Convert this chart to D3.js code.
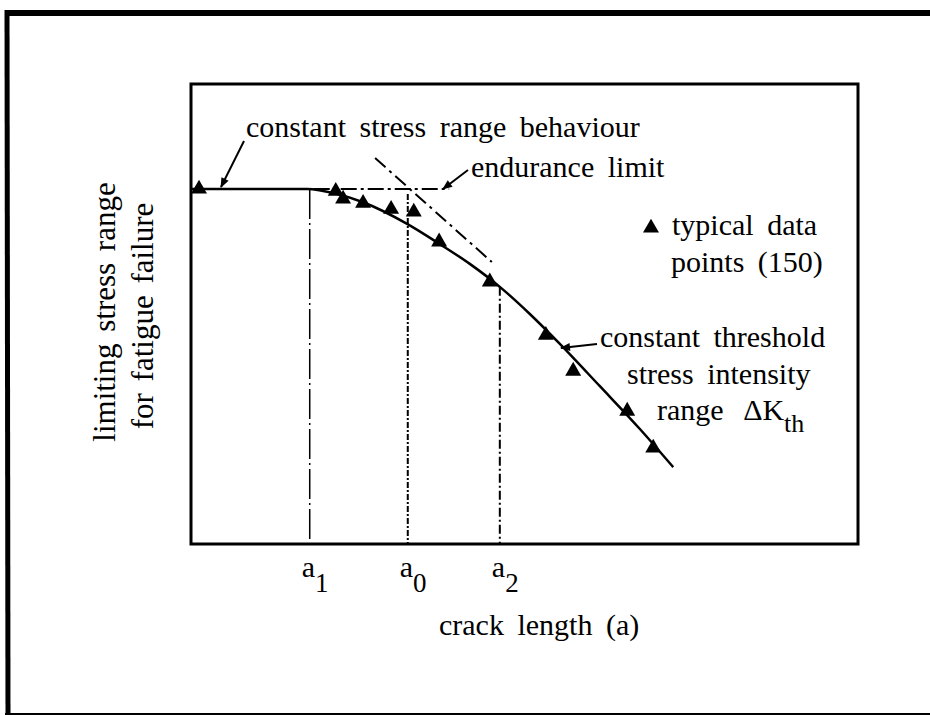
<!DOCTYPE html>
<html>
<head>
<meta charset="utf-8">
<script src="https://cdn.jsdelivr.net/npm/d3@7"></script>
<style>
    body { margin: 0; background: #fff; }
    svg { display: block; }
    text { font-family: "Liberation Serif", "Times New Roman", serif; fill: #000; word-spacing: 6px; }
</style>
</head>
<body>
<div id="graphique"></div>
<script>
// courbe : longueur de fissure -> contrainte limite
const crackLength = [0, 1.74, 2.19, 2.58, 3.24, 3.73, 4.18, 4.63, 5.08, 5.53, 6.13, 6.73, 7.23];
const stressRange = [7.72, 7.72, 7.61, 7.43, 6.96, 6.52, 6.09, 5.59, 5.00, 4.35, 3.43, 2.50, 1.67];

// points typiques (triangles)
const pointsX = [0.12, 2.17, 2.28, 2.58, 3.00, 3.34, 3.72, 4.48, 5.32, 5.73, 6.54, 6.93];
const pointsY = [7.72, 7.67, 7.50, 7.41, 7.28, 7.22, 6.57, 5.70, 4.54, 3.76, 2.89, 2.09];

// limite d'endurance et tangente
const enduranceLevel = 7.72;
const enduranceX = [1.84, 3.87];
const tangentX = [2.76, 4.51];
const tangentY = [8.39, 6.13];

// longueurs critiques a1, a0, a2
const critLabels = ["1", "0", "2"];
const critX = [1.78, 3.25, 4.63];
const critTop = [7.72, 7.61, 5.59];
const critDash = ["30,4,2,4", "6,2,2,2", "9,3,2,3"];

const width = 930, height = 715;
const margin = { top: 84, right: 72, bottom: 171, left: 191 };

const svg = d3.select("#graphique").append("svg")
    .attr("width", width)
    .attr("height", height);

const xScale = d3.scaleLinear().domain([0, 10]).range([margin.left, width - margin.right]);
const yScale = d3.scaleLinear().domain([0, 10]).range([height - margin.bottom, margin.top]);

// fleches
svg.append("defs").append("marker")
    .attr("id", "fleche")
    .attr("viewBox", "0 -5 10 10")
    .attr("refX", 9)
    .attr("refY", 0)
    .attr("markerUnits", "userSpaceOnUse")
    .attr("markerWidth", 12)
    .attr("markerHeight", 10)
    .attr("orient", "auto")
    .append("path")
    .attr("d", "M0,-4L10,0L0,4Z")
    .style("fill", "#000");

// cadre exterieur (gauche, haut, bas)
svg.append("line").attr("x1", 7).attr("y1", 10).attr("x2", 8).attr("y2", 715)
    .style("stroke", "#000").style("stroke-width", 5);
svg.append("line").attr("x1", 5).attr("y1", 13).attr("x2", 930).attr("y2", 13)
    .style("stroke", "#000").style("stroke-width", 6);
svg.append("line").attr("x1", 5).attr("y1", 714).attr("x2", 930).attr("y2", 714)
    .style("stroke", "#000").style("stroke-width", 2);

// cadre du graphique
svg.append("rect")
    .attr("x", xScale(0))
    .attr("y", yScale(10))
    .attr("width", xScale(10) - xScale(0))
    .attr("height", yScale(0) - yScale(10))
    .style("fill", "none")
    .style("stroke", "#000")
    .style("stroke-width", 3);

// traits verticaux a1, a0, a2
svg.selectAll(".crit-line")
    .data(critX)
    .enter()
    .append("line")
    .attr("class", "crit-line")
    .attr("x1", d => xScale(d))
    .attr("x2", d => xScale(d))
    .attr("y1", (d, i) => yScale(critTop[i]))
    .attr("y2", yScale(0))
    .style("stroke", "#000")
    .style("stroke-width", (d, i) => i === 0 ? 1.5 : 2)
    .style("stroke-dasharray", (d, i) => critDash[i]);

// limite d'endurance
svg.append("line")
    .attr("x1", xScale(enduranceX[0]))
    .attr("x2", xScale(enduranceX[1]))
    .attr("y1", yScale(enduranceLevel))
    .attr("y2", yScale(enduranceLevel))
    .style("stroke", "#000")
    .style("stroke-width", 2)
    .style("stroke-dasharray", "16,4,3,4");

// tangente
svg.append("line")
    .attr("x1", xScale(tangentX[0]))
    .attr("y1", yScale(tangentY[0]))
    .attr("x2", xScale(tangentX[1]))
    .attr("y2", yScale(tangentY[1]))
    .style("stroke", "#000")
    .style("stroke-width", 2)
    .style("stroke-dasharray", "14,5,3,5");

// courbe
const courbe = crackLength.map((d, i) => ({ a: d, s: stressRange[i] }));
svg.append("path")
    .datum(courbe)
    .attr("d", d3.line().x(d => xScale(d.a)).y(d => yScale(d.s)).curve(d3.curveMonotoneX))
    .style("fill", "none")
    .style("stroke", "#000")
    .style("stroke-width", 2.5);

// triangles
const triangle = d3.symbol().type(d3.symbolTriangle).size(110);
svg.selectAll(".point")
    .data(pointsX.map((d, i) => ({ a: d, s: pointsY[i] })))
    .enter()
    .append("path")
    .attr("class", "point")
    .attr("d", triangle)
    .attr("transform", d => `translate(${xScale(d.a)},${yScale(d.s)})`)
    .style("fill", "#000");

function texte(x, y, s) {
    return svg.append("text")
        .attr("x", x)
        .attr("y", y)
        .style("font-size", "30px")
        .text(s);
}

function fleche(x1, y1, x2, y2) {
    svg.append("line")
        .attr("x1", x1).attr("y1", y1).attr("x2", x2).attr("y2", y2)
        .style("stroke", "#000")
        .style("stroke-width", 2)
        .attr("marker-end", "url(#fleche)");
}

texte(246, 137, "constant stress range behaviour");
fleche(244, 141, 221, 187);

texte(471, 177, "endurance limit");
fleche(468, 170, 443, 189);

svg.append("path")
    .attr("d", triangle)
    .attr("transform", "translate(651,228)")
    .style("fill", "#000");
texte(672, 235, "typical data");
texte(671, 272, "points (150)");

texte(600, 347, "constant threshold");
fleche(597, 344, 561, 348);
texte(627, 384, "stress intensity");
const dk = texte(657, 420, "range ");
dk.append("tspan").attr("dx", 6).text("ΔK");
dk.append("tspan").attr("dy", 12).style("font-size", "26px").text("th");

// etiquettes a1, a0, a2
critX.forEach((d, i) => {
    const t = texte(xScale(d) - 8, 577, "a");
    t.append("tspan").attr("dy", 15).style("font-size", "27px").text(critLabels[i]);
});

texte(439, 635, "crack length (a)");

// titre axe vertical
const yLabels = ["limiting stress range", "for fatigue failure"];
const yLabelX = [115, 153];
yLabels.forEach((s, i) => {
    svg.append("text")
        .attr("transform", `translate(${yLabelX[i]},${i === 0 ? 312 : 316}) rotate(-90)`)
        .attr("text-anchor", "middle")
        .style("font-size", "31px")
        .style("word-spacing", "4px")
        .text(s);
});
</script>
</body>
</html>
